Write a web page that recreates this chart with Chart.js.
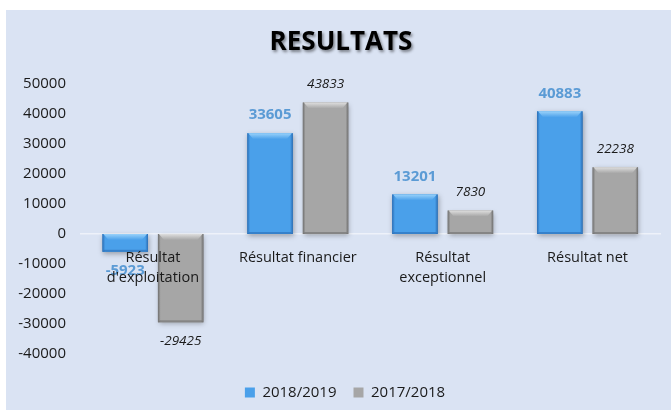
<!DOCTYPE html>
<html>
<head>
<meta charset="utf-8">
<script src="https://cdn.jsdelivr.net/npm/chart.js@4.4.0/dist/chart.umd.min.js"></script>
<style>
  html, body { margin: 0; padding: 0; background: #fff; }
  #box { position: absolute; left: 6px; top: 10px; width: 665px; height: 400px; background: #dae3f3; }
</style>
</head>
<body>
<div id="box"><canvas id="chart"></canvas></div>
<script>
const title = "RESULTATS";
const categories = [["Résultat", "d'exploitation"], "Résultat financier", ["Résultat", "exceptionnel"], "Résultat net"];
const seriesNames = ["2018/2019", "2017/2018"];
const values2019 = [-5923, 33605, 13201, 40883];
const values2018 = [-29425, 43833, 7830, 22238];
const yMin = -40000;
const yMax = 50000;
const yStep = 10000;

const font = "'Open Sans', sans-serif";
Chart.defaults.font.family = font;

// colours for the bevelled bars: [dark edge, body, light top]
const palettes = [
  ["#2a6db5", "#4aa0ea", "#9ad2fa"],
  ["#6f6f6f", "#a6a6a6", "#dedede"],
];

// redraws each bar with a simple 3D bevel, using the positions chart.js computed
const bevelBars = {
  id: "bevelBars",
  afterDatasetsDraw(chart) {
    const ctx = chart.ctx;
    chart.data.datasets.forEach((ds, di) => {
      const meta = chart.getDatasetMeta(di);
      const pal = palettes[di];
      meta.data.forEach((bar) => {
        const p = bar.getProps(["x", "y", "base", "width"], true);
        const left = p.x - p.width / 2;
        const right = p.x + p.width / 2;
        const top = Math.min(p.y, p.base);
        const h = Math.abs(p.base - p.y);
        const b = Math.min(6, h / 2);

        ctx.save();
        ctx.shadowColor = "rgba(0,0,0,0.3)";
        ctx.shadowBlur = 5;
        ctx.shadowOffsetX = 1;
        ctx.shadowOffsetY = 2;
        const g = ctx.createLinearGradient(left, 0, right, 0);
        g.addColorStop(0, pal[0]);
        g.addColorStop(0.06, pal[1]);
        g.addColorStop(0.94, pal[1]);
        g.addColorStop(1, pal[0]);
        ctx.fillStyle = g;
        ctx.fillRect(left, top, p.width, h);
        ctx.restore();

        // light top face
        ctx.save();
        const tg = ctx.createLinearGradient(0, top, 0, top + b);
        tg.addColorStop(0, pal[2]);
        tg.addColorStop(1, pal[1]);
        ctx.fillStyle = tg;
        ctx.beginPath();
        ctx.moveTo(left + 1, top);
        ctx.lineTo(right - 1, top);
        ctx.lineTo(right - b, top + b);
        ctx.lineTo(left + b, top + b);
        ctx.closePath();
        ctx.fill();
        // dark bottom edge
        ctx.fillStyle = pal[0];
        ctx.globalAlpha = 0.6;
        ctx.beginPath();
        ctx.moveTo(left, top + h);
        ctx.lineTo(right, top + h);
        ctx.lineTo(right - 2, top + h - 2);
        ctx.lineTo(left + 2, top + h - 2);
        ctx.closePath();
        ctx.fill();
        ctx.restore();
      });
    });
  }
};

const valueLabels = {
  id: "valueLabels",
  afterDatasetsDraw(chart) {
    const ctx = chart.ctx;
    chart.data.datasets.forEach((ds, di) => {
      const meta = chart.getDatasetMeta(di);
      ctx.save();
      ctx.font = di === 0 ? "bold 15px " + font : "italic 13.5px " + font;
      ctx.fillStyle = di === 0 ? "#5b9bd5" : "#1a1a1a";
      ctx.textAlign = "center";
      ctx.textBaseline = "middle";
      meta.data.forEach((bar, i) => {
        const v = ds.data[i];
        ctx.fillText(String(v), bar.x, bar.y + (v >= 0 ? -18 : 19));
      });
      ctx.restore();
    });
  }
};

const shadowTitle = {
  id: "shadowTitle",
  afterDraw(chart) {
    const ctx = chart.ctx;
    ctx.save();
    ctx.font = "bold 26px " + font;
    ctx.fillStyle = "#000";
    ctx.textAlign = "center";
    ctx.textBaseline = "middle";
    ctx.shadowColor = "rgba(0,0,0,0.45)";
    ctx.shadowBlur = 3;
    ctx.shadowOffsetX = 1.5;
    ctx.shadowOffsetY = 1.5;
    ctx.fillText(title, 335, 33);
    ctx.restore();
  }
};

// the legend sits a little right of the canvas centre
const nudgeLegend = {
  id: "nudgeLegend",
  afterLayout(chart) {
    chart.legend.left += 24;
  }
};

new Chart(document.getElementById("chart"), {
  type: "bar",
  data: {
    labels: categories,
    datasets: [
      { label: seriesNames[0], data: values2019, backgroundColor: palettes[0][1], borderWidth: 0 },
      { label: seriesNames[1], data: values2018, backgroundColor: palettes[1][1], borderWidth: 0 },
    ],
  },
  plugins: [bevelBars, valueLabels, shadowTitle, nudgeLegend],
  options: {
    responsive: true,
    maintainAspectRatio: false,
    animation: false,
    layout: { padding: { top: 74, left: 0, right: 11, bottom: 0 } },
    datasets: {
      bar: { categoryPercentage: 0.766, barPercentage: 0.82 },
    },
    scales: {
      x: {
        position: { y: 0 },
        grid: { display: false, drawTicks: false },
        border: { display: true, color: "#eef2fa", width: 1.5 },
        ticks: {
          z: 1,
          color: "#1a1a1a",
          padding: 14,
          autoSkip: false,
          maxRotation: 0,
          font: { size: 14.5, lineHeight: 1.38 },
        },
      },
      y: {
        min: yMin,
        max: yMax,
        grid: { display: false, drawTicks: false },
        border: { display: false },
        afterFit: (scale) => { scale.width = 74.5; },
        ticks: {
          stepSize: yStep,
          padding: 14.5,
          color: "#1a1a1a",
          font: { size: 15 },
          callback: (v) => String(v),
        },
      },
    },
    plugins: {
      tooltip: { enabled: false },
      title: { display: false },
      legend: {
        position: "bottom",
        title: { display: true, text: "", padding: 0, font: { size: 14, lineHeight: 1 } },
        labels: {
          boxWidth: 10,
          boxHeight: 10,
          padding: 17,
          color: "#1a1a1a",
          font: { size: 15 },
        },
      },
    },
  },
});
</script>
</body>
</html>
